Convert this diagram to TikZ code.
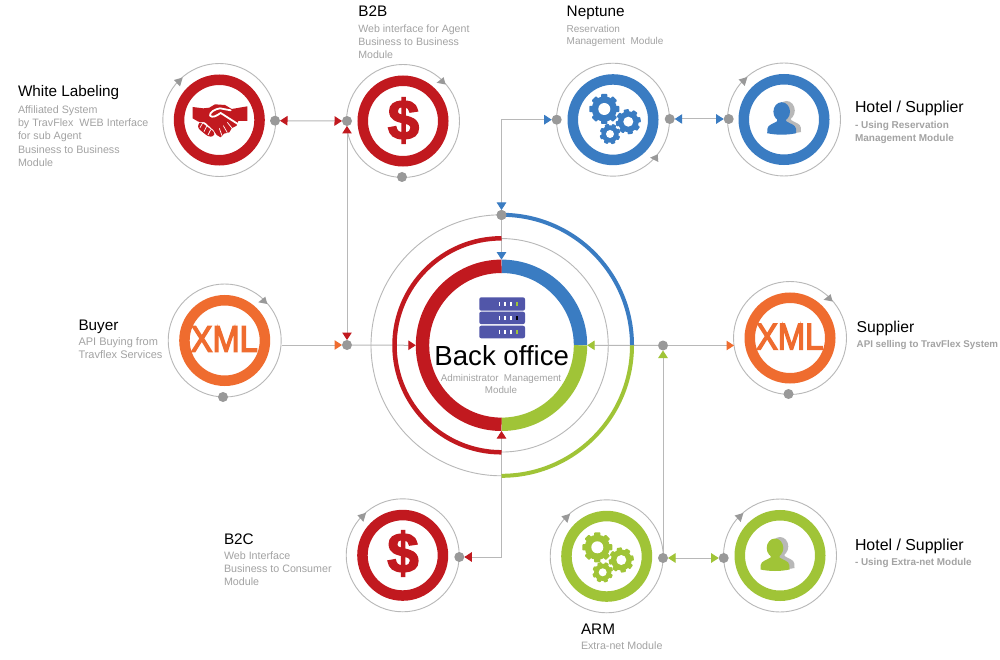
\documentclass[tikz,border=0pt]{standalone}
\usepackage{fontspec}
\setmainfont{Liberation Sans}
\newfontfamily\dollarfont[BoldFeatures={FakeBold=3}]{Liberation Sans}
\newfontfamily\xmlfont[FakeBold=4]{Liberation Sans}
\usetikzlibrary{arrows.meta,calc}
\definecolor{cred}{HTML}{C1191F}
\definecolor{cblue}{HTML}{3A7CC2}
\definecolor{corange}{HTML}{EF6C2F}
\definecolor{cgreen}{HTML}{A0C437}
\definecolor{cdot}{HTML}{999999}
\definecolor{cline}{HTML}{B8B8B8}
\definecolor{ctext}{HTML}{A3A3A3}
\definecolor{cserver}{HTML}{5156A9}
\tikzset{
  plain/.style={circle,inner sep=0pt,outer sep=0pt},
  halo/.style={plain,draw=cline,line width=0.9pt,minimum size=113pt},
  ringnode/.style={plain,line width=10.5pt,minimum size=80.5pt},
  dotnode/.style={plain,fill=cdot,minimum size=10pt},
  conn/.style={draw=cline,line width=1pt},
  titletxt/.style={inner sep=0pt,outer sep=0pt,anchor=base west,text=black,font=\fontsize{15.3}{18}\selectfont},
  subtxt/.style={inner sep=0pt,outer sep=0pt,anchor=north west,align=left,text=ctext,font=\fontsize{10.7}{13.3}\selectfont},
  subbold/.style={inner sep=0pt,outer sep=0pt,anchor=north west,align=left,text=ctext,font=\fontsize{10}{13}\selectfont\bfseries},
  dollar/.style={inner sep=0pt,text=cred,font=\fontsize{56}{60}\dollarfont\bfseries},
  xmltxt/.style={inner sep=0pt,text=corange,xscale=0.88,font=\fontsize{37}{40}\xmlfont},
  Tr/.tip={Triangle[length=7.5pt,width=9.5pt,color=cred,fill=cred]},
  Tb/.tip={Triangle[length=7.5pt,width=9.5pt,color=cblue,fill=cblue]},
  To/.tip={Triangle[length=7.5pt,width=9.5pt,color=corange,fill=corange]},
  Tg/.tip={Triangle[length=7.5pt,width=9.5pt,color=cgreen,fill=cgreen]},
}
\newcommand\arrNE[1]{\fill[cdot] ($(#1)+(42.6,-36.5)$) -- ($(#1)+(40.6,-43.8)$) -- ($(#1)+(33.6,-38.2)$) -- cycle;}
\newcommand\arrNW[1]{\fill[cdot] ($(#1)+(-36.6,-42.5)$) -- ($(#1)+(-45.3,-40)$) -- ($(#1)+(-39.3,-33.5)$) -- cycle;}
\newcommand\arrSE[1]{\fill[cdot] ($(#1)+(37,38)$) -- ($(#1)+(44.7,34.6)$) -- ($(#1)+(45.3,42.3)$) -- cycle;}
\newcommand\gearshape[6]{%
  \begin{scope}[shift={(#1,#2)}]
    \fill[#6] (0,0) circle[radius=#3*0.84];
    \foreach \a in {0,45,...,315}{
      \fill[#6,rotate=\a+#5,rounded corners=0.8pt] (-#3*0.21,0) rectangle (#3*0.21,#3);
    }
    \fill[white] (0,0) circle[radius=#4];
  \end{scope}}
\newcommand\personshape[3]{%
  \begin{scope}[shift={(#1,#2)}]
    \fill[#3] (0,0) ellipse[x radius=8.3,y radius=9.5];
    \fill[#3] (-4.5,6) -- (4.5,6) -- (4.5,9.5) .. controls (8,12) and (14,13) .. (14.3,17)
      -- (14.5,21.5) .. controls (5,23.5) and (-5,23.5) .. (-14.5,21.5) -- (-14.3,17)
      .. controls (-14,13) and (-8,12) .. (-4.5,9.5) -- cycle;
  \end{scope}}
\begin{document}
\begin{tikzpicture}[x=1pt,y=-1pt]
\useasboundingbox (0,0) rectangle (1000,660);
\fill[white] (0,0) rectangle (1000,660);

% centre coordinates
\coordinate (cW) at (219.3,120);
\coordinate (cB) at (403,121);
\coordinate (cN) at (613,119.7);
\coordinate (cH) at (784,119.5);
\coordinate (cX) at (224.7,340.5);
\coordinate (cS) at (790,338);
\coordinate (cC) at (402.7,555.3);
\coordinate (cA) at (606.7,556.3);
\coordinate (cG) at (780,555.5);
\coordinate (c0) at (501.5,345.3);

% outer thin circles
\foreach \c/\n in {cW/wlO,cB/bbO,cN/neO,cH/hbO,cX/xbO,cS/xsO,cC/bcO,cA/arO,cG/hgO}{
  \node[halo] (\n) at (\c) {};
}
\arrNW{cW} \arrNE{cB} \arrSE{cN} \arrNW{cH} \arrNE{cX} \arrNE{cS} \arrNW{cC} \arrNW{cA} \arrNW{cG}

% coloured rings
\node[ringnode,draw=cred] (wlR) at (cW) {};
\node[ringnode,draw=cred] (bbR) at (cB) {};
\node[ringnode,draw=cblue] (neR) at (cN) {};
\node[ringnode,draw=cblue] (hbR) at (cH) {};
\node[ringnode,draw=corange] (xbR) at (cX) {};
\node[ringnode,draw=corange] (xsR) at (cS) {};
\node[ringnode,draw=cred] (bcR) at (cC) {};
\node[ringnode,draw=cgreen] (arR) at (cA) {};
\node[ringnode,draw=cgreen] (hgR) at (cG) {};

% big centre
\node[plain,draw=cline,line width=0.9pt,minimum size=261pt] (boOuter) at (c0) {};
\node[plain,draw=cline,line width=0.9pt,minimum size=213.5pt] (boInner) at (c0) {};
\node[plain,minimum size=171.4pt] (bo) at (c0) {};

% connector dots
\node[dotnode] (wlr) at (275,120.7) {};
\node[dotnode] (bbl) at (347,121) {};
\node[dotnode] (bbb) at (402,177) {};
\node[dotnode] (nel) at (556.7,119.7) {};
\node[dotnode] (ner) at (669.7,119) {};
\node[dotnode] (hbl) at (728.7,119) {};
\node[dotnode] (xbb) at (223,397) {};
\node[dotnode] (xsb) at (788.5,394) {};
\node[dotnode] (ldot) at (347,345) {};
\node[dotnode] (rdot) at (663,345.5) {};
\node[dotnode] (tdot) at (501.5,215) {};
\node[dotnode] (bcr) at (459.3,557) {};
\node[dotnode] (arr) at (663,558) {};
\node[dotnode] (hgl) at (723.7,558) {};
\coordinate (xbout) at (281.5,345);
\coordinate (xsin) at (734,345.5);

% connectors
\draw[conn,{Tr}-{Tr}] (wlr) -- (bbl);
\draw[conn,{Tr}-{Tr}] (bbl) -- (ldot);
\draw[conn,-{To}] (xbout) -- (ldot);
\draw[conn,-{Tr}] (ldot) -- (bo.west);
\draw[conn,{Tb}-{Tb}] (tdot) |- (nel);
\draw[conn,-{Tb}] (tdot) -- (bo.north);
\draw[conn,{Tb}-{Tb}] (ner) -- (hbl);
\draw[conn,-{Tg}] (rdot) -- (bo.east);
\draw[conn,-{To}] (rdot) -- (xsin);
\draw[conn,{Tg}-] (rdot) -- (arr);
\draw[conn,{Tg}-{Tg}] (arr) -- (hgl);
\draw[conn,{Tr}-{Tr}] (bo.south) |- (bcr);

% centre arcs
\begin{scope}[shift={(c0)}]
  \draw[cblue,line width=13.4pt] (79,0) arc[start angle=0,end angle=-90,radius=79];
  \draw[cgreen,line width=13.4pt] (0,79) arc[start angle=90,end angle=0,radius=79];
  \draw[cred,line width=13.4pt] (0,-79) arc[start angle=-90,end angle=-270,radius=79];
  \draw[cred,line width=4.5pt] (0,-107) arc[start angle=-90,end angle=-270,radius=107];
  \draw[cblue,line width=4pt] (130.5,0) arc[start angle=0,end angle=-90,radius=130.5];
  \draw[cgreen,line width=4pt] (0,130.5) arc[start angle=90,end angle=0,radius=130.5];
\end{scope}
\fill[cdot] (tdot) circle[radius=5];

% server icon
\foreach \y/\h/\l in {297.3/13.4/cgreen,311.7/12.4/black,325.7/12.6/cgreen}{
  \fill[cserver,rounded corners=2pt] (479.3,\y) rectangle (525,\y+\h);
  \foreach \x in {499.5,505,511}{
    \fill[white] (\x-0.8,\y+\h/2-2.3) rectangle (\x+0.8,\y+\h/2+2.3);
  }
  \fill[\l] (515.8,\y+\h/2-2.3) rectangle (517.6,\y+\h/2+2.3);
}

% dollar and XML icons
\node[dollar] (dB) at (403.5,120.5) {\$};
\node[dollar] (dC) at (403,553.5) {\$};
\node[xmltxt] (xB) at (224.3,339) {XML};
\node[xmltxt] (xS) at (789.7,336.7) {XML};

% gears
\gearshape{604.3}{109}{15}{6}{0}{cblue}
\gearshape{628.3}{121.7}{12.5}{5}{10}{cblue}
\gearshape{610}{134}{10.3}{4}{20}{cblue}
\gearshape{597.3}{547.3}{15}{6}{0}{cgreen}
\gearshape{621.3}{560}{12.5}{5}{10}{cgreen}
\gearshape{602.7}{572.3}{10.3}{4}{20}{cgreen}

% persons
\personshape{786.5}{110.5}{cline}
\personshape{781.7}{111.7}{cblue}
\personshape{780}{546.5}{cline}
\personshape{775}{548}{cgreen}

% handshake
\begin{scope}[shift={(170,85)},scale=0.3333]
  \fill[cred] (68,66) -- (100,70) -- (118,68) -- (135,58) -- (165,60) -- (185,72) -- (232,64)
    -- (232,108) -- (205,108) -- (200,122) -- (185,130) -- (178,142) -- (162,146) -- (152,157)
    -- (140,150) -- (130,135) -- (105,112) -- (85,110) -- (68,100) -- cycle;
  \fill[cred,rounded corners=2.5pt] (84,118) -- (92,110) -- (135,143) -- (130,155) -- (115,155) -- (84,130) -- cycle;
  \draw[white,line width=1.8pt,line cap=round,line join=round]
    (182,76) -- (150,70) .. controls (135,72) and (118,82) .. (120,92) .. controls (128,100) and (140,92) .. (152,84) -- (205,118);
  \draw[white,line width=0.7pt] (172,112) -- (188,132) (160,122) -- (172,143) (148,130) -- (156,152);
  \draw[white,line width=0.7pt] (98,114) -- (90,128) (110,124) -- (102,140) (122,134) -- (114,150);
\end{scope}

% centre text
\node[inner sep=0pt,anchor=base,text=black,font=\fontsize{27.6}{30}\selectfont] (botitle) at (501.7,365) {Back office};
\node[inner sep=0pt,anchor=north,align=center,text=ctext,font=\fontsize{9.8}{11.8}\selectfont] (bosub) at (501,372)
  {\rule{0pt}{9pt}Administrator\ \ Management\\Module};

% labels
\node[titletxt] (t1) at (18,96.7) {White Labeling};
\node[subtxt] (s1) at (18,104.3) {\rule{0pt}{9pt}Affiliated System\\by TravFlex\ \ WEB Interface\\for sub Agent\\Business to Business\\Module};
\node[titletxt] (t2) at (358.3,16.7) {B2B};
\node[subtxt,font=\fontsize{10.6}{13}\selectfont] (s2) at (358.3,23.3) {\rule{0pt}{9pt}Web interface for Agent\\Business to Business\\Module};
\node[titletxt] (t3) at (566.7,16.7) {Neptune};
\node[subtxt,font=\fontsize{10}{12.4}\selectfont] (s3) at (566.7,23.3) {\rule{0pt}{9pt}Reservation\\Management\ \ Module};
\node[titletxt,font=\fontsize{15.9}{18}\selectfont] (t4) at (855,113) {Hotel / Supplier};
\node[subbold] (s4) at (855,120) {\rule{0pt}{9pt}- Using Reservation\\Management Module};
\node[titletxt] (t5) at (78.5,330.5) {Buyer};
\node[subtxt,font=\fontsize{11}{13.5}\selectfont] (s5) at (78.5,336) {\rule{0pt}{9pt}API Buying from\\Travflex Services};
\node[titletxt,font=\fontsize{15.7}{18}\selectfont] (t6) at (856.7,332.3) {Supplier};
\node[subbold,font=\fontsize{9.75}{13}\selectfont\bfseries] (s6) at (856.7,338.3) {\rule{0pt}{9pt}API selling to TravFlex System};
\node[titletxt] (t7) at (224,544.5) {B2C};
\node[subtxt] (s7) at (224,550) {\rule{0pt}{9pt}Web Interface\\Business to Consumer\\Module};
\node[titletxt] (t8) at (581,634) {ARM};
\node[subtxt] (s8) at (581,640) {\rule{0pt}{9pt}Extra-net Module};
\node[titletxt,font=\fontsize{15.9}{18}\selectfont] (t9) at (855,550) {Hotel / Supplier};
\node[subbold,font=\fontsize{9.9}{13}\selectfont\bfseries] (s9) at (855,556) {\rule{0pt}{9pt}- Using Extra-net Module};
\end{tikzpicture}
\end{document}
